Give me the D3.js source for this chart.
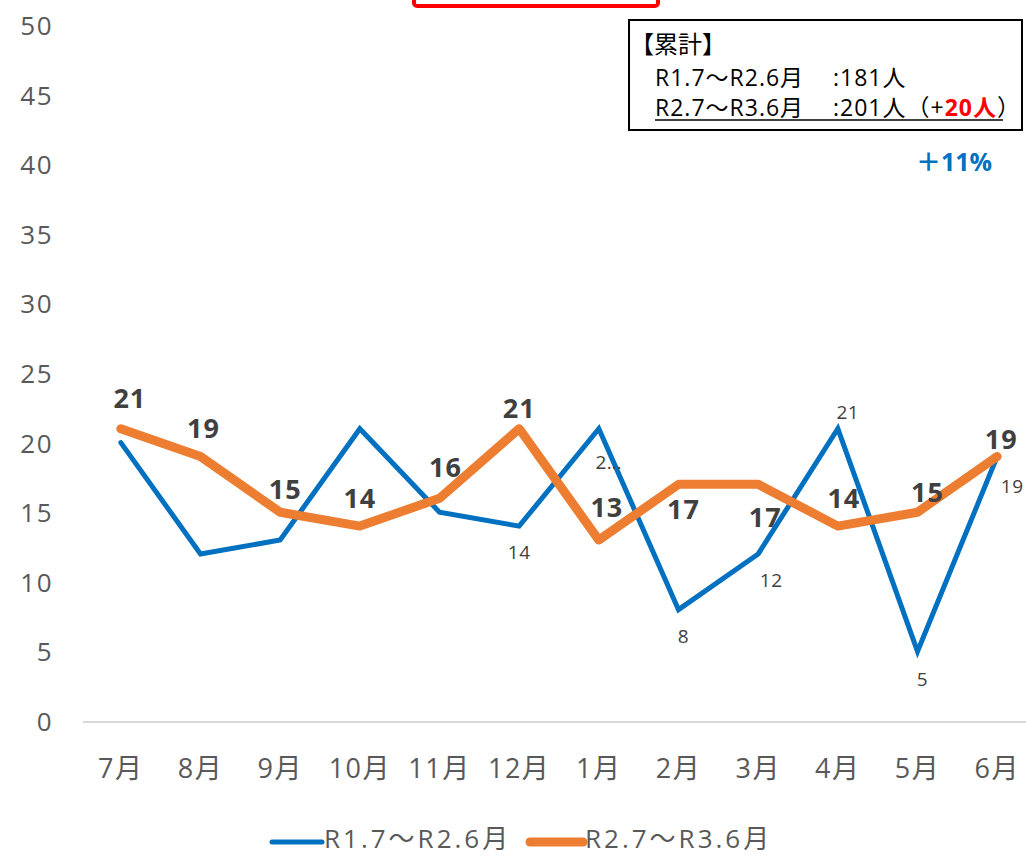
<!DOCTYPE html>
<html>
<head>
<meta charset="utf-8">
<script src="https://cdn.jsdelivr.net/npm/d3@7"></script>
<style>
  body { margin: 0; background: #fff; }
  svg text { font-family: "Open Sans", "Noto Sans CJK JP", sans-serif; }
</style>
</head>
<body>
<div id="chart"></div>
<script>
const months = ["7月", "8月", "9月", "10月", "11月", "12月", "1月", "2月", "3月", "4月", "5月", "6月"];
const prevYear = [20, 12, 13, 21, 15, 14, 21, 8, 12, 21, 5, 19];
const thisYear = [21, 19, 15, 14, 16, 21, 13, 17, 17, 14, 15, 19];
const yTicks = [0, 5, 10, 15, 20, 25, 30, 35, 40, 45, 50];
const seriesNames = ["R1.7〜R2.6月", "R2.7〜R3.6月"];

// label placement (dx, dy from point); null = label not shown
const prevLabelPos = [null, null, null, null, null, [0, 26], [10, 33], [5, 26], [13, 26], [10, -17], [5, 28], [15, 29]];
const prevLabelText = [null, null, null, null, null, "14", "2…", "8", "12", "21", "5", "19"];
const thisLabelPos = [[9, -31], [3, -29], [5, -24], [0, -29], [6, -32], [0, -21], [8, -34], [5, 24], [7, 32], [6, -29], [10, -21], [4, -18]];

const width = 1026, height = 856;
const margin = { left: 81, right: -11, top: 25, bottom: 135 };

const svg = d3.select("#chart").append("svg")
  .attr("width", width)
  .attr("height", height);

const x = d3.scaleBand()
  .domain(months)
  .range([margin.left, width - margin.right]);

const y = d3.scaleLinear()
  .domain([0, 50])
  .range([height - margin.bottom, margin.top]);

const cx = (d) => x(d) + x.bandwidth() / 2;

// y tick labels
svg.append("g")
  .selectAll("text")
  .data(yTicks)
  .join("text")
  .attr("x", 53)
  .attr("y", (d) => y(d))
  .attr("text-anchor", "end")
  .attr("dominant-baseline", "central")
  .style("font-size", "26px")
  .style("letter-spacing", "1.5px")
  .style("fill", "#595959")
  .text((d) => d);

// baseline
svg.append("line")
  .attr("x1", margin.left + 2)
  .attr("x2", width)
  .attr("y1", y(0) + 1)
  .attr("y2", y(0) + 1)
  .style("stroke", "#d9d9d9")
  .style("stroke-width", 2);

// x labels
svg.append("g")
  .selectAll("text")
  .data(months)
  .join("text")
  .attr("x", (d) => cx(d))
  .attr("y", y(0) + 46)
  .attr("text-anchor", "middle")
  .attr("dominant-baseline", "central")
  .style("font-size", "27px")
  .style("letter-spacing", "1.5px")
  .style("fill", "#595959")
  .text((d) => d);

const line = d3.line()
  .x((d, i) => cx(months[i]))
  .y((d) => y(d));

svg.append("path")
  .datum(prevYear)
  .attr("d", line)
  .style("fill", "none")
  .style("stroke", "#0070C0")
  .style("stroke-width", 5)
  .style("stroke-linejoin", "miter")
  .style("stroke-linecap", "round");

svg.append("path")
  .datum(thisYear)
  .attr("d", line)
  .style("fill", "none")
  .style("stroke", "#ED7D31")
  .style("stroke-width", 9)
  .style("stroke-linejoin", "round")
  .style("stroke-linecap", "round");

// data labels
const prevLabels = prevYear
  .map((v, i) => ({ v: v, i: i }))
  .filter((d) => prevLabelPos[d.i] !== null);

svg.append("g")
  .selectAll("text")
  .data(prevLabels)
  .join("text")
  .attr("x", (d) => cx(months[d.i]) + prevLabelPos[d.i][0])
  .attr("y", (d) => y(d.v) + prevLabelPos[d.i][1])
  .attr("text-anchor", "middle")
  .attr("dominant-baseline", "central")
  .style("font-size", "19px")
  .style("letter-spacing", "0.5px")
  .style("fill", "#404040")
  .text((d) => prevLabelText[d.i]);

svg.append("g")
  .selectAll("text")
  .data(thisYear)
  .join("text")
  .attr("x", (d, i) => cx(months[i]) + thisLabelPos[i][0])
  .attr("y", (d, i) => y(d) + thisLabelPos[i][1])
  .attr("text-anchor", "middle")
  .attr("dominant-baseline", "central")
  .style("font-size", "27px")
  .style("letter-spacing", "1px")
  .style("font-weight", "bold")
  .style("fill", "#404040")
  .text((d) => d);

// red frame at top (title box cut off)
svg.append("rect")
  .attr("x", 414)
  .attr("y", -20)
  .attr("width", 244)
  .attr("height", 26)
  .attr("rx", 3)
  .style("fill", "none")
  .style("stroke", "#ff0000")
  .style("stroke-width", 4);

// cumulative box
svg.append("rect")
  .attr("x", 629)
  .attr("y", 20)
  .attr("width", 393)
  .attr("height", 110)
  .style("fill", "#fff")
  .style("stroke", "#000")
  .style("stroke-width", 2);

const total0 = d3.sum(prevYear);
const total1 = d3.sum(thisYear);

const note = svg.append("g")
  .style("font-size", "23px")
  .style("letter-spacing", "1px")
  .style("fill", "#000");
note.append("text").attr("x", 630).attr("y", 53)
  .style("font-family", "'Noto Sans CJK JP'").style("font-size", "24px")
  .style("letter-spacing", "0px").text("【累計】");
note.append("text").attr("x", 655).attr("y", 86).text(seriesNames[0]);
note.append("text").attr("x", 833).attr("y", 86).text(":" + total0 + "人");
note.append("text").attr("x", 655).attr("y", 116).text(seriesNames[1]);
const t2 = note.append("text").attr("x", 833).attr("y", 116);
t2.append("tspan").text(":" + total1 + "人（+");
t2.append("tspan")
  .style("fill", "#ff0000").style("font-weight", "bold")
  .text((total1 - total0) + "人");
t2.append("tspan").text("）");
note.append("line")
  .attr("x1", 655).attr("x2", 1003)
  .attr("y1", 120).attr("y2", 120)
  .style("stroke", "#000").style("stroke-width", 1.5);

svg.append("text")
  .attr("x", 954)
  .attr("y", 161)
  .attr("text-anchor", "middle")
  .attr("dominant-baseline", "central")
  .style("font-size", "25px")
  .style("font-weight", "bold")
  .style("fill", "#0070C0")
  .text("＋" + Math.round((total1 / total0 - 1) * 100) + "%");

// legend
const legend = svg.append("g");
const legendItems = [
  { name: seriesNames[0], color: "#0070C0", w: 5, x: 272, len: 50 },
  { name: seriesNames[1], color: "#ED7D31", w: 9, x: 530, len: 53 }
];
legendItems.forEach((d) => {
  legend.append("line")
    .attr("x1", d.x).attr("x2", d.x + d.len)
    .attr("y1", 842).attr("y2", 842)
    .style("stroke", d.color)
    .style("stroke-width", d.w)
    .style("stroke-linecap", "round");
  legend.append("text")
    .attr("x", d.x + d.len + 2).attr("y", 838)
    .attr("dominant-baseline", "central")
    .style("font-size", "26px")
    .style("letter-spacing", "3px")
    .style("fill", "#595959")
    .text(d.name);
});
</script>
</body>
</html>
